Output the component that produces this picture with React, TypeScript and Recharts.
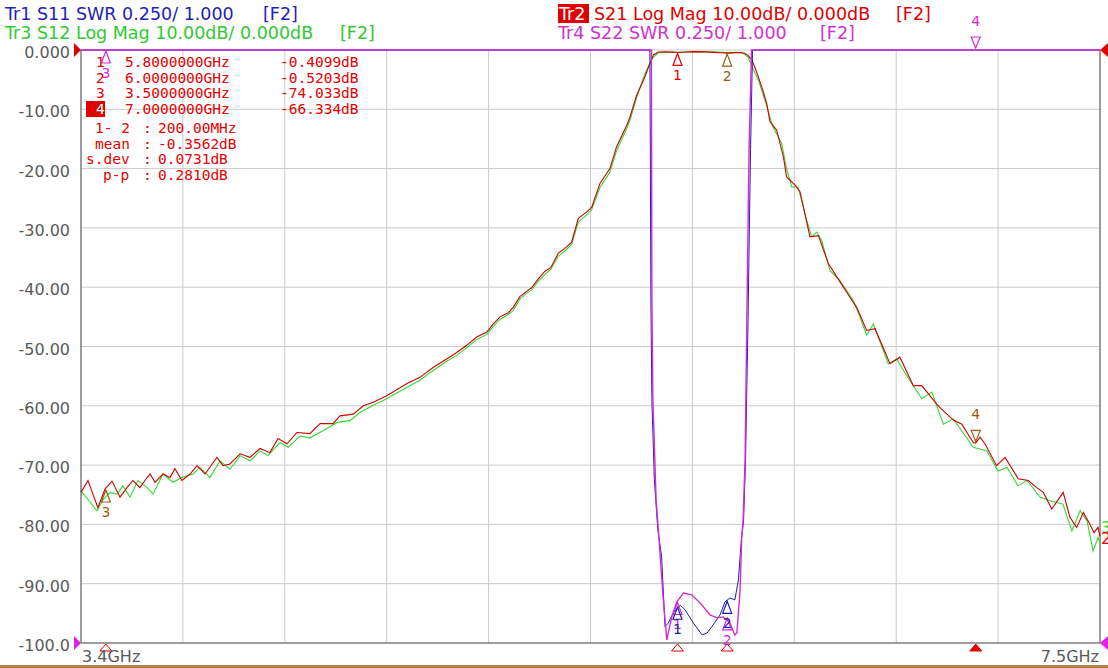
import { LineChart, Line, XAxis, YAxis, CartesianGrid, ReferenceDot, ReferenceLine } from "recharts";

// axis ticks
const X_TICKS = [3.4, 3.81, 4.22, 4.63, 5.04, 5.45, 5.86, 6.27, 6.68, 7.09, 7.5];
const X_LABELS = ["3.4GHz", "", "", "", "", "", "", "", "", "", "7.5GHz"];
const Y_TICKS = [0, -10, -20, -30, -40, -50, -60, -70, -80, -90, -100];
const Y_LABELS = ["0.000", "-10.00", "-20.00", "-30.00", "-40.00", "-50.00", "-60.00", "-70.00", "-80.00", "-90.00", "-100.0"];

// Tr2 S21 log mag (GHz / dB)
const S21_F = [3.4, 3.428, 3.448, 3.468, 3.497, 3.525, 3.557, 3.585, 3.609, 3.637, 3.666, 3.678, 3.698, 3.73, 3.758, 3.778, 3.806, 3.839, 3.867, 3.899, 3.947, 3.971, 3.999, 4.04, 4.08, 4.12, 4.16, 4.193, 4.229, 4.269, 4.321, 4.362, 4.414, 4.442, 4.496, 4.536, 4.576, 4.63, 4.71, 4.764, 4.818, 4.871, 4.912, 4.952, 4.992, 5.032, 5.059, 5.086, 5.119, 5.139, 5.166, 5.193, 5.213, 5.24, 5.267, 5.29, 5.32, 5.354, 5.374, 5.401, 5.435, 5.455, 5.488, 5.528, 5.555, 5.596, 5.609, 5.636, 5.669, 5.689, 5.703, 5.723, 5.75, 5.78, 5.8, 5.83, 5.87, 5.91, 5.95, 5.98, 6.0, 6.03, 6.055, 6.07, 6.084, 6.099, 6.112, 6.125, 6.145, 6.16, 6.172, 6.199, 6.226, 6.239, 6.273, 6.293, 6.333, 6.367, 6.407, 6.454, 6.494, 6.521, 6.561, 6.595, 6.655, 6.695, 6.749, 6.783, 6.843, 6.856, 6.91, 6.944, 6.99, 7.0, 7.017, 7.037, 7.084, 7.118, 7.171, 7.212, 7.245, 7.272, 7.306, 7.352, 7.379, 7.406, 7.433, 7.46, 7.476, 7.492, 7.5];
const S21_DB = [-74.6, -72.6, -74.9, -77.2, -74.0, -72.7, -75.4, -73.8, -72.6, -73.8, -72.1, -71.5, -72.9, -71.5, -72.1, -70.6, -72.6, -71.5, -70.1, -71.5, -68.7, -70.1, -69.8, -68.1, -68.7, -67.2, -67.9, -65.5, -66.4, -64.5, -64.7, -63.0, -63.0, -61.7, -61.4, -60.0, -59.4, -58.3, -56.3, -55.2, -53.5, -52.1, -51.0, -49.8, -48.4, -47.6, -46.2, -45.0, -44.3, -43.4, -41.6, -40.7, -40.1, -38.6, -37.3, -36.7, -34.3, -33.2, -32.4, -28.4, -27.3, -26.5, -22.5, -20.0, -16.3, -12.7, -11.3, -7.6, -4.5, -2.3, -0.84, -0.34, -0.3, -0.36, -0.41, -0.33, -0.28, -0.31, -0.4, -0.47, -0.52, -0.45, -0.42, -0.55, -0.9, -1.7, -3.0, -4.5, -7.0, -9.2, -12.1, -13.5, -18.0, -21.4, -22.8, -23.9, -31.5, -31.3, -36.0, -39.1, -41.7, -43.4, -47.3, -47.0, -52.9, -51.8, -56.6, -56.6, -59.7, -60.3, -62.4, -63.1, -66.2, -66.3, -65.3, -66.4, -70.1, -68.7, -72.3, -72.6, -73.8, -74.6, -77.4, -74.6, -78.8, -80.5, -78.0, -80.0, -81.4, -80.5, -82.0];

// Tr3 S12 log mag (GHz / dB)
const S12_F = [3.4, 3.428, 3.464, 3.489, 3.517, 3.545, 3.569, 3.597, 3.629, 3.666, 3.69, 3.73, 3.77, 3.806, 3.851, 3.879, 3.919, 3.959, 3.999, 4.04, 4.08, 4.12, 4.152, 4.201, 4.233, 4.281, 4.321, 4.374, 4.43, 4.482, 4.523, 4.576, 4.63, 4.71, 4.764, 4.818, 4.871, 4.912, 4.952, 4.992, 5.032, 5.059, 5.086, 5.119, 5.139, 5.166, 5.193, 5.213, 5.24, 5.267, 5.29, 5.32, 5.354, 5.374, 5.401, 5.435, 5.455, 5.488, 5.528, 5.555, 5.596, 5.609, 5.636, 5.669, 5.689, 5.703, 5.723, 5.75, 5.8, 5.85, 5.9, 5.95, 6.0, 6.04, 6.064, 6.084, 6.104, 6.125, 6.145, 6.16, 6.184, 6.219, 6.239, 6.26, 6.285, 6.32, 6.34, 6.361, 6.38, 6.414, 6.454, 6.507, 6.534, 6.561, 6.588, 6.648, 6.682, 6.722, 6.783, 6.823, 6.87, 6.91, 6.99, 7.017, 7.045, 7.09, 7.126, 7.17, 7.206, 7.259, 7.299, 7.351, 7.387, 7.42, 7.448, 7.472, 7.492, 7.5];
const S12_DB = [-74.3, -75.8, -77.7, -75.8, -74.6, -74.9, -73.5, -75.4, -72.6, -73.8, -74.9, -71.5, -72.9, -72.1, -71.5, -70.4, -72.1, -69.3, -70.7, -68.4, -69.3, -67.6, -68.4, -66.2, -67.0, -65.1, -65.4, -64.2, -62.8, -62.5, -61.1, -59.9, -58.8, -56.9, -55.7, -54.0, -52.5, -51.5, -50.2, -48.8, -48.0, -46.6, -45.4, -44.6, -43.9, -42.0, -41.0, -40.5, -39.0, -37.8, -37.0, -34.8, -33.6, -32.8, -29.0, -27.8, -26.9, -23.2, -20.6, -17.0, -13.2, -11.8, -8.0, -4.0, -2.2, -1.2, -0.5, -0.38, -0.4, -0.33, -0.3, -0.36, -0.45, -0.4, -0.55, -1.2, -3.2, -5.0, -7.6, -9.6, -13.0, -15.7, -20.0, -23.1, -23.1, -28.7, -31.5, -30.7, -32.1, -37.2, -38.9, -42.2, -45.0, -48.1, -46.2, -52.9, -52.1, -54.9, -58.8, -57.7, -63.1, -62.2, -67.0, -67.3, -67.6, -71.0, -70.4, -73.5, -72.6, -75.4, -76.0, -76.6, -81.1, -77.7, -79.4, -84.5, -82.2, -83.0];

// Tr1 S11 SWR (GHz / SWR, shown clipped at 3.5 = top of scale)
const S11_F = [3.4, 5.689, 5.691, 5.693, 5.697, 5.707, 5.721, 5.736, 5.75, 5.763, 5.783, 5.811, 5.831, 5.864, 5.899, 5.919, 5.943, 5.971, 5.991, 6.011, 6.031, 6.045, 6.057, 6.066, 6.074, 6.078, 6.084, 6.088, 6.094, 6.102, 7.5];
const S11_SWR = [3.5, 3.5, 2.997, 2.449, 2.026, 1.688, 1.477, 1.365, 1.069, 1.084, 1.127, 1.16, 1.139, 1.084, 1.034, 1.042, 1.076, 1.118, 1.173, 1.19, 1.182, 1.266, 1.435, 1.52, 1.773, 2.026, 2.364, 2.66, 3.08, 3.5, 3.5];

// Tr4 S22 SWR
const S22_F = [3.4, 5.695, 5.697, 5.701, 5.714, 5.726, 5.742, 5.757, 5.777, 5.797, 5.824, 5.857, 5.891, 5.931, 5.958, 5.984, 6.011, 6.031, 6.039, 6.052, 6.058, 6.064, 6.072, 6.08, 6.088, 6.098, 7.5];
const S22_SWR = [3.5, 3.5, 2.449, 2.026, 1.604, 1.435, 1.194, 1.013, 1.11, 1.173, 1.211, 1.203, 1.169, 1.118, 1.106, 1.11, 1.084, 1.034, 1.042, 1.224, 1.435, 1.52, 1.773, 2.449, 3.08, 3.5, 3.5];

// markers
const MARKER_NUM = ["1", "2", "3", "4"];
const MARKER_F = [5.8, 6.0, 3.5, 7.0];
const S21_MARKER_DB = [-0.4099, -0.5203, -74.033, -66.334];
const S22_MARKER_SWR = [1.175, 1.11, 3.5, 3.5];
const S11_MARKER_SWR = [1.155, 1.18];
const STAT_NAMES = ["1- 2", "mean", "s.dev", "p-p"];
const STAT_VALUES = ["200.00MHz", "-0.3562dB", "0.0731dB", "0.2810dB"];
const STAT_X = [95, 95, 86, 103];

const RED = "#d00000";
const RED_TXT = "#e60000";
const GREEN = "#33d833";
const BLUE = "#1e1eb0";
const MAG = "#d22ad8";
const BROWN = "#9c5a0c";
const FONT = "DejaVu Sans";

const zip = (f: number[], v: number[]) => f.map((x, i) => ({ f: x, v: v[i] }));
const fmtDb = (v: number) => (Math.abs(v) < 10 ? v.toFixed(4) : v.toFixed(3)) + "dB";

function markerShape(label: string, color: string, dir: "up" | "down") {
  return (p: any) => {
    const { cx, cy } = p;
    if (dir === "up") {
      return (
        <g>
          <polygon points={`${cx},${cy + 1} ${cx - 4.5},${cy + 13} ${cx + 4.5},${cy + 13}`} fill="none" stroke={color} strokeWidth={1.2} />
          <text x={cx} y={cy + 28} textAnchor="middle" fill={color} fontSize={14} fontFamily={FONT}>{label}</text>
        </g>
      );
    }
    return (
      <g>
        <polygon points={`${cx},${cy - 2} ${cx - 4.5},${cy - 13} ${cx + 4.5},${cy - 13}`} fill="none" stroke={color} strokeWidth={1.2} />
        <text x={cx} y={cy - 24} textAnchor="middle" fill={color} fontSize={14} fontFamily={FONT}>{label}</text>
      </g>
    );
  };
}

const stimShape = (filled: boolean) => (p: any) => (
  <polygon points={`${p.cx},${p.cy + 1} ${p.cx - 6},${p.cy + 8} ${p.cx + 6},${p.cy + 8}`} fill={filled ? "#e00000" : "#fff"} stroke="#e00000" strokeWidth={1} />
);
const refArrow = (color: string, side: "left" | "right") => (p: any) =>
  side === "left" ? (
    <polygon points={`${p.cx - 7},${p.cy - 7} ${p.cx},${p.cy} ${p.cx - 7},${p.cy + 7}`} fill={color} />
  ) : (
    <polygon points={`${p.cx + 8},${p.cy - 7} ${p.cx},${p.cy} ${p.cx + 8},${p.cy + 7}`} fill={color} />
  );
const endLabel = (label: string, color: string, dy: number) => (p: any) => (
  <text x={p.cx + 1} y={p.cy + dy} fill={color} fontSize={16} fontFamily={FONT}>{label}</text>
);

const YTick = (p: any) => (
  <text x={70} y={p.y + 8} textAnchor="end" fill="#5a5a5a" fontSize={16} fontFamily={FONT}>
    {Y_LABELS[Y_TICKS.indexOf(p.payload.value)]}
  </text>
);
const XTick = (p: any) => {
  const i = X_TICKS.indexOf(p.payload.value);
  if (!X_LABELS[i]) return <g />;
  return (
    <text x={i === 0 ? p.x + 1 : p.x - 1} y={662} textAnchor={i === 0 ? "start" : "end"} fill="#5a5a5a" fontSize={16} fontFamily={FONT}>
      {X_LABELS[i]}
    </text>
  );
};

export default function App() {
  const s21 = zip(S21_F, S21_DB);
  const s12 = zip(S12_F, S12_DB);
  const s11 = zip(S11_F, S11_SWR);
  const s22 = zip(S22_F, S22_SWR);
  const activeIdx = 3;

  return (
    <div style={{ position: "absolute", left: 0, top: 0, width: 1108, height: 668, background: "#fff", overflow: "hidden" }}>
      <LineChart width={1108} height={668} margin={{ top: 50, right: 8, bottom: 0, left: 0 }}>
        <CartesianGrid stroke="#cbcbcb" />
        <XAxis type="number" dataKey="f" domain={[3.4, 7.5]} ticks={X_TICKS} interval={0} height={25}
          tickLine={false} axisLine={{ stroke: "#555" }} tick={XTick} />
        <YAxis type="number" domain={[-100, 0]} ticks={Y_TICKS} interval={0} width={81}
          tickLine={false} axisLine={{ stroke: "#555" }} tick={YTick} />
        <YAxis yAxisId="swr" type="number" domain={[1, 3.5]} hide />
        <ReferenceLine x={7.5} stroke="#555" />

        <Line data={s12} dataKey="v" type="linear" stroke={GREEN} strokeWidth={1.1} dot={false} activeDot={false} isAnimationActive={false} />
        <Line data={s21} dataKey="v" type="linear" stroke={RED} strokeWidth={1.1} dot={false} activeDot={false} isAnimationActive={false} />
        <Line data={s11} dataKey="v" yAxisId="swr" type="linear" stroke={BLUE} strokeWidth={1} dot={false} activeDot={false} isAnimationActive={false} />
        <Line data={s22} dataKey="v" yAxisId="swr" type="linear" stroke={MAG} strokeWidth={1.4} dot={false} activeDot={false} isAnimationActive={false} />

        {MARKER_F.map((f, i) => (
          <ReferenceDot key={"s21" + i} x={f} y={S21_MARKER_DB[i]}
            shape={markerShape(MARKER_NUM[i], i === 0 ? RED_TXT : BROWN, i === activeIdx ? "down" : "up")} />
        ))}
        {MARKER_F.map((f, i) => (
          <ReferenceDot key={"s22" + i} x={f} y={S22_MARKER_SWR[i]} yAxisId="swr"
            shape={markerShape(MARKER_NUM[i], MAG, i === activeIdx ? "down" : "up")} />
        ))}
        {S11_MARKER_SWR.map((v, i) => (
          <ReferenceDot key={"s11" + i} x={MARKER_F[i]} y={v} yAxisId="swr" shape={markerShape(MARKER_NUM[i], BLUE, "up")} />
        ))}
        {MARKER_F.map((f, i) => (
          <ReferenceDot key={"stim" + i} x={f} y={-100} shape={stimShape(i === activeIdx)} />
        ))}

        <ReferenceDot x={3.4} y={0} shape={refArrow("#e00000", "left")} />
        <ReferenceDot x={7.5} y={0} shape={refArrow("#e00000", "right")} />
        <ReferenceDot x={3.4} y={1} yAxisId="swr" shape={refArrow("#e020e8", "left")} />
        <ReferenceDot x={7.5} y={1} yAxisId="swr" shape={refArrow("#e020e8", "right")} />
        <ReferenceDot x={7.5} y={S12_DB[S12_DB.length - 1]} shape={endLabel("3", GREEN, -9)} />
        <ReferenceDot x={7.5} y={S21_DB[S21_DB.length - 1]} shape={endLabel("2", RED_TXT, 8)} />
      </LineChart>

      <svg width={1108} height={668} style={{ position: "absolute", left: 0, top: 0, pointerEvents: "none" }}>
        <g fontFamily={FONT} fontSize={17.5}>
          <text x={5} y={20} fill="#2222b4">Tr1 S11 SWR 0.250/ 1.000</text>
          <text x={263} y={20} fill="#2222b4">[F2]</text>
          <text x={5} y={39} fill="#32c832">Tr3 S12 Log Mag 10.00dB/ 0.000dB</text>
          <text x={340} y={39} fill="#32c832">[F2]</text>
          <rect x={558} y={4} width={31} height={19} fill="#e00000" />
          <text x={559} y={20} fill="#fff">Tr2</text>
          <text x={594} y={20} fill="#e00000">S21 Log Mag 10.00dB/ 0.000dB</text>
          <text x={896} y={20} fill="#e00000">[F2]</text>
          <text x={558} y={39} fill="#cc33cc">Tr4 S22 SWR 0.250/ 1.000</text>
          <text x={820} y={39} fill="#cc33cc">[F2]</text>
        </g>
        <g fontFamily="DejaVu Sans Mono" fontSize={14.5} fill={RED_TXT}>
          {MARKER_F.map((f, i) => (
            <g key={i}>
              {i === activeIdx && <rect x={86} y={101} width={19} height={16} fill="#e00000" />}
              <text x={96} y={67 + i * 15.5} fill={i === activeIdx ? "#fff" : RED_TXT}>{MARKER_NUM[i]}</text>
              <text x={125} y={67 + i * 15.5}>{f.toFixed(7)}GHz</text>
              <text x={280} y={67 + i * 15.5}>{fmtDb(S21_MARKER_DB[i])}</text>
            </g>
          ))}
          {STAT_NAMES.map((n, i) => (
            <g key={n}>
              <text x={STAT_X[i]} y={133 + i * 15.7}>{n}</text>
              <text x={143} y={133 + i * 15.7}>:</text>
              <text x={158} y={133 + i * 15.7}>{STAT_VALUES[i]}</text>
            </g>
          ))}
        </g>
      </svg>
      <div style={{ position: "absolute", left: 0, top: 665, width: 1108, height: 3, background: "#b5804a" }} />
    </div>
  );
}
